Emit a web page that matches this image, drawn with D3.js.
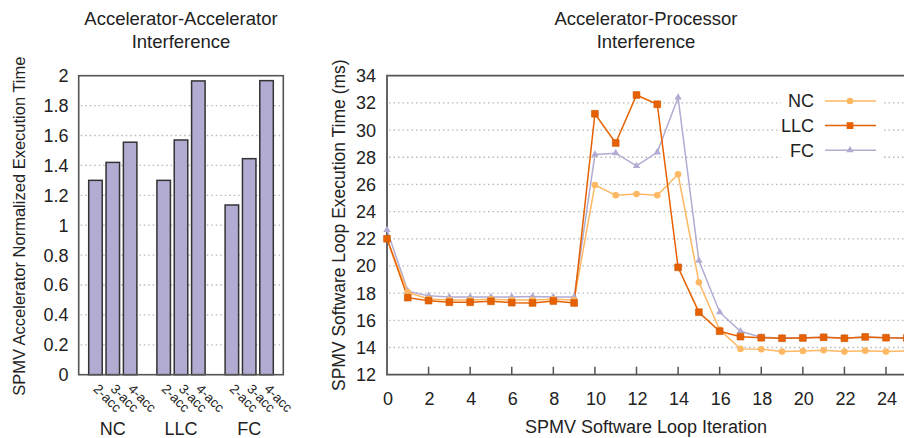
<!DOCTYPE html>
<html><head><meta charset="utf-8">
<script src="https://cdn.jsdelivr.net/npm/d3@7"></script>
<style>
html,body{margin:0;padding:0;background:#fff;}
svg{display:block;font-family:"Liberation Sans",Arial,Helvetica,sans-serif;}
</style></head>
<body><svg id="c" width="904" height="438"></svg>
<script>
// ---------- Data: left chart ----------
const groups = ["NC", "LLC", "FC"];
const accLabels = ["2-acc", "3-acc", "4-acc"];
const ncBars  = [1.30, 1.42, 1.555];
const llcBars = [1.30, 1.57, 1.965];
const fcBars  = [1.135, 1.445, 1.967];
const leftTicks = [0, 0.2, 0.4, 0.6, 0.8, 1, 1.2, 1.4, 1.6, 1.8, 2];

// ---------- Data: right chart ----------
const iterations = d3.range(0, 26);
const ncSeries  = [22.0, 18.06, 17.57, 17.5, 17.5, 17.55, 17.5, 17.5, 17.55, 17.5, 25.96, 25.2, 25.3, 25.2, 26.75, 18.8, 15.3, 13.9, 13.87, 13.7, 13.75, 13.8, 13.7, 13.77, 13.7, 13.75];
const llcSeries = [22.0, 17.67, 17.45, 17.33, 17.33, 17.4, 17.3, 17.28, 17.42, 17.28, 31.2, 29.05, 32.58, 31.9, 19.9, 16.6, 15.2, 14.8, 14.72, 14.68, 14.7, 14.75, 14.68, 14.78, 14.72, 14.7];
const fcSeries  = [22.65, 18.15, 17.8, 17.72, 17.72, 17.72, 17.72, 17.75, 17.72, 17.72, 28.2, 28.3, 27.36, 28.36, 32.4, 20.4, 16.6, 15.2, 14.75, 14.7, 14.72, 14.75, 14.7, 14.76, 14.72, 14.7];
const rightYTicks = [12, 14, 16, 18, 20, 22, 24, 26, 28, 30, 32, 34];
const rightXTicks = [0, 2, 4, 6, 8, 10, 12, 14, 16, 18, 20, 22, 24];
const seriesNames = ["NC", "LLC", "FC"];

// ---------- Styles ----------
const colNC = "#fdb863", colLLC = "#e66101", colFC = "#b2abd2";
const axisCol = "#555", textCol = "#222", gridCol = "#b8b8b8";

const svg = d3.select("#c");

// ================= LEFT CHART =================
const L = {left: 78.7, right: 283.3, top: 75.7, bottom: 374.7};
const yL = d3.scaleLinear().domain([0, 2]).range([L.bottom, L.top]);
const xG = d3.scaleBand().domain(groups).range([L.left, L.right]).paddingInner(0).paddingOuter(0);
const xB = d3.scaleBand().domain(accLabels).range([10, xG.bandwidth() - 10]).paddingInner(0.22).paddingOuter(0);
const barData = [ncBars, llcBars, fcBars];

const gL = svg.append("g");
// grid
gL.selectAll("line.grid").data(leftTicks.filter(t => t > 0 && t < 2)).join("line")
  .attr("x1", L.left + 2).attr("x2", L.right - 2)
  .attr("y1", d => yL(d)).attr("y2", d => yL(d))
  .attr("stroke", gridCol).attr("stroke-width", 1.3).attr("stroke-dasharray", "1.5,3");
// bars
groups.forEach((g, gi) => {
  gL.selectAll(null).data(barData[gi]).join("rect")
    .attr("x", (d, i) => xG(g) + xB(accLabels[i]))
    .attr("width", xB.bandwidth())
    .attr("y", d => yL(d))
    .attr("height", d => yL(0) - yL(d))
    .attr("fill", colFC).attr("stroke", "#333").attr("stroke-width", 1.5);
  // rotated acc labels
  gL.selectAll(null).data(accLabels).join("text")
    .attr("transform", (d) => {
      const cx = xG(g) + xB(d) + xB.bandwidth() / 2;
      return `translate(${cx - 3},${L.bottom + 15}) rotate(45)`;
    })
    .attr("font-size", 13.5).attr("fill", textCol).text(d => d);
  gL.append("text").attr("x", xG(g) + xG.bandwidth() / 2).attr("y", 435)
    .attr("text-anchor", "middle").attr("font-size", 18).attr("fill", textCol).text(g);
});
// frame
gL.append("rect").attr("x", L.left).attr("y", L.top).attr("width", L.right - L.left).attr("height", L.bottom - L.top)
  .attr("fill", "none").attr("stroke", axisCol).attr("stroke-width", 1.6);
// y tick labels
gL.selectAll("text.yt").data(leftTicks).join("text")
  .attr("x", 68.5).attr("y", d => yL(d)).attr("dy", "0.36em")
  .attr("text-anchor", "end").attr("font-size", 18).attr("fill", textCol).text(d => d);
// y title
gL.append("text").attr("transform", `translate(25,${(L.top + L.bottom) / 2 + 1}) rotate(-90)`)
  .attr("text-anchor", "middle").attr("font-size", 16.5).attr("fill", textCol)
  .text("SPMV Accelerator Normalized Execution Time");
// title
const tL = gL.append("text").attr("text-anchor", "middle").attr("font-size", 18.5).attr("fill", textCol);
tL.append("tspan").attr("x", 181).attr("y", 25).text("Accelerator-Accelerator");
tL.append("tspan").attr("x", 181).attr("y", 48).text("Interference");

// ================= RIGHT CHART =================
const R = {left: 387, right: 906.8, top: 75.7, bottom: 374.7};
const xR = d3.scaleLinear().domain([0, 25]).range([R.left, R.right]);
const yR = d3.scaleLinear().domain([12, 34]).range([R.bottom, R.top]);
const gR = svg.append("g");

gR.selectAll("line.grid").data(rightYTicks.filter(t => t > 12 && t < 34)).join("line")
  .attr("x1", R.left + 2).attr("x2", R.right)
  .attr("y1", d => yR(d)).attr("y2", d => yR(d))
  .attr("stroke", gridCol).attr("stroke-width", 1.3).attr("stroke-dasharray", "1.5,3");

// opaque legend box
gR.append("rect").attr("x", 781).attr("y", 88).attr("width", 101).attr("height", 76).attr("fill", "#fff");

// axes frame (left, top, bottom)
gR.append("path")
  .attr("d", `M${R.right},${R.top}H${R.left}V${R.bottom}H${R.right}`)
  .attr("fill", "none").attr("stroke", axisCol).attr("stroke-width", 1.8);
// x ticks (inward)
gR.selectAll("line.xt").data(rightXTicks.filter(t => t > 0)).join("line")
  .attr("x1", d => xR(d)).attr("x2", d => xR(d))
  .attr("y1", R.bottom).attr("y2", R.bottom - 8)
  .attr("stroke", axisCol).attr("stroke-width", 1.5);
gR.selectAll("text.xt").data(rightXTicks).join("text")
  .attr("x", d => xR(d) + 1).attr("y", 405)
  .attr("text-anchor", "middle").attr("font-size", 18).attr("fill", textCol).text(d => d);
gR.selectAll("text.yt").data(rightYTicks).join("text")
  .attr("x", 376).attr("y", d => yR(d)).attr("dy", "0.36em")
  .attr("text-anchor", "end").attr("font-size", 18).attr("fill", textCol).text(d => d);
gR.append("text").attr("x", 646).attr("y", 433).attr("text-anchor", "middle")
  .attr("font-size", 18).attr("fill", textCol).text("SPMV Software Loop Iteration");
gR.append("text").attr("transform", `translate(345,${(R.top + R.bottom) / 2}) rotate(-90)`)
  .attr("text-anchor", "middle").attr("font-size", 17.5).attr("fill", textCol)
  .text("SPMV Software Loop Execution Time (ms)");
const tR = gR.append("text").attr("text-anchor", "middle").attr("font-size", 18.5).attr("fill", textCol);
tR.append("tspan").attr("x", 646).attr("y", 25).text("Accelerator-Processor");
tR.append("tspan").attr("x", 646).attr("y", 48).text("Interference");

// series
const seriesList = [
  {name: "NC", vals: ncSeries, col: colNC, marker: "circle"},
  {name: "LLC", vals: llcSeries, col: colLLC, marker: "square"},
  {name: "FC", vals: fcSeries, col: colFC, marker: "triangle"}
];
const line = d3.line().x((d, i) => xR(iterations[i])).y(d => yR(d));
const symGen = {
  circle: d3.symbol().type(d3.symbolCircle).size(34),
  square: d3.symbol().type(d3.symbolSquare).size(46),
  triangle: d3.symbol().type(d3.symbolTriangle).size(24)
};
const drawOrder = [seriesList[2], seriesList[0], seriesList[1]];
drawOrder.forEach(s => {
  gR.append("path").datum(s.vals).attr("d", line)
    .attr("fill", "none").attr("stroke", s.col).attr("stroke-width", 1.5);
});
drawOrder.forEach(s => {
  gR.selectAll(null).data(s.vals).join("path")
    .attr("transform", (d, i) => `translate(${xR(iterations[i])},${yR(d)})`)
    .attr("d", symGen[s.marker]()).attr("fill", s.col)
    .attr("stroke", s.marker === "square" ? d3.color(s.col).darker(0.3) : "none").attr("stroke-width", 0.6);
});

// legend
seriesList.forEach((s, i) => {
  const y = 101 + i * 24.6;
  gR.append("text").attr("x", 814).attr("y", y).attr("dy", "0.36em").attr("text-anchor", "end")
    .attr("font-size", 18).attr("fill", textCol).text(seriesNames[i]);
  gR.append("line").attr("x1", 825).attr("x2", 876).attr("y1", y).attr("y2", y)
    .attr("stroke", s.col).attr("stroke-width", 1.5);
  gR.append("path").attr("transform", `translate(850,${y})`).attr("d", symGen[s.marker]()).attr("fill", s.col);
});
</script></body></html>
